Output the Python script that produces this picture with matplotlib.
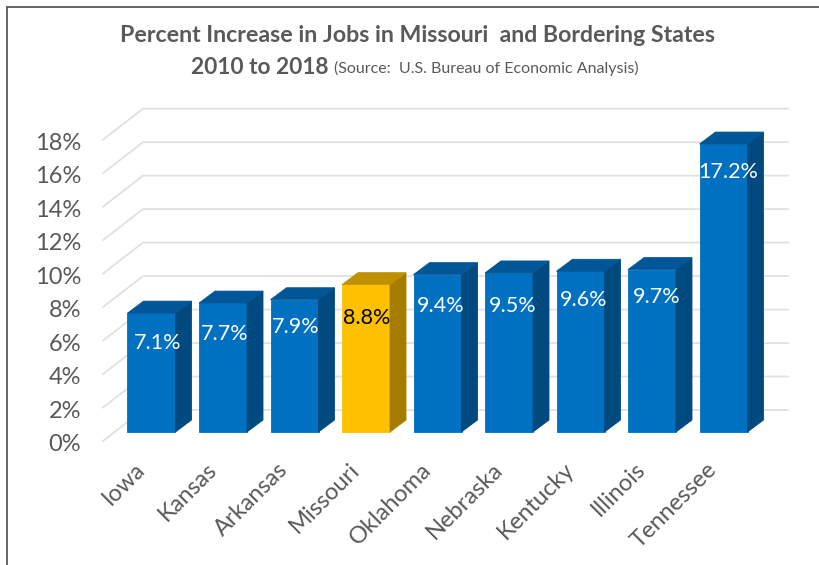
import matplotlib
matplotlib.use('Agg')
import matplotlib.pyplot as plt

states = ['Iowa', 'Kansas', 'Arkansas', 'Missouri', 'Oklahoma', 'Nebraska', 'Kentucky', 'Illinois', 'Tennessee']
increase = [7.1, 7.7, 7.9, 8.8, 9.4, 9.5, 9.6, 9.7, 17.2]
value_labels = ['7.1%', '7.7%', '7.9%', '8.8%', '9.4%', '9.5%', '9.6%', '9.7%', '17.2%']
y_ticks = [0, 2, 4, 6, 8, 10, 12, 14, 16, 18]

plt.rcParams['font.family'] = ['Lato', 'DejaVu Sans']

# one unit on each axis, in pixels
X_UNIT = 71.5
Y_UNIT = 16.74
X0 = 151.5
Y0 = 432

BAR_W = 48 / X_UNIT
BAR_DX = 16 / X_UNIT
BAR_DY = 12 / Y_UNIT
# chart floor runs from the front edge to the back wall
FLOOR_LEFT = (103 - X0) / X_UNIT
FLOOR_BACK_X = (143 - X0) / X_UNIT
FLOOR_RIGHT = (788 - X0) / X_UNIT
FLOOR_FRONT_Y = (Y0 - 441) / Y_UNIT
FLOOR_BACK_Y = (Y0 - 410) / Y_UNIT

# value labels were placed by hand on each bar (pixels right, pixels down)
LABEL_NUDGE = [(5, 2), (0, 3), (0, 0), (-1, 6), (2, 4), (2, 5), (2, 1), (3, 0), (3, 0)]

fig = plt.figure(figsize=(8.2, 5.65), dpi=100)
ax = fig.add_axes([0, 0, 1, 1])
ax.set_xlim(-X0 / X_UNIT, (820 - X0) / X_UNIT)
ax.set_ylim((Y0 - 565) / Y_UNIT, Y0 / Y_UNIT)
ax.axis('off')

# outer frame, left and top edges only
ax.plot([7 / 820, 7 / 820, 1], [0, 1 - 7 / 565, 1 - 7 / 565], transform=ax.transAxes,
        color='#595959', lw=1.3, solid_joinstyle='miter')

for t in y_ticks:
    ax.plot([FLOOR_LEFT, FLOOR_BACK_X, FLOOR_RIGHT],
            [FLOOR_FRONT_Y + t, FLOOR_BACK_Y + t, FLOOR_BACK_Y + t],
            color='#e1e1e1', lw=1.3, zorder=1)
    ax.text((81 - X0) / X_UNIT, FLOOR_FRONT_Y + t - 3.5 / Y_UNIT, f'{t}%', ha='right', va='center',
            fontsize=17, color='#595959')

for i, (state, v) in enumerate(zip(states, increase)):
    if state == 'Missouri':
        front, side, top, text_color = '#ffc000', '#a67c00', '#bf9000', 'black'
    else:
        front, side, top, text_color = '#0070c0', '#004a80', '#005696', 'white'
    left = i - BAR_W / 2
    right = i + BAR_W / 2
    ax.bar(i, v, width=BAR_W, color=front, edgecolor=front, lw=0.6, zorder=3)
    ax.fill([right, right + BAR_DX, right + BAR_DX, right],
            [0, BAR_DY, v + BAR_DY, v], color=side, lw=0.6, zorder=3)
    ax.fill([left, left + BAR_DX, right + BAR_DX, right],
            [v, v + BAR_DY, v + BAR_DY, v], color=top, lw=0.6, zorder=3)
    nudge_x, nudge_y = LABEL_NUDGE[i]
    ax.text(i + 0.02 + nudge_x / X_UNIT, v - 1.65 - nudge_y / Y_UNIT, value_labels[i],
            ha='center', va='center', fontsize=15.5, color=text_color, zorder=4)
    # category label, rotated with its end under the bar
    ax.text(i - 0.24, -1.6, state, ha='right', va='top', rotation=45,
            rotation_mode='anchor', fontsize=17, color='#595959')

ax.text((417 - X0) / X_UNIT, (Y0 - 36) / Y_UNIT, 'Percent Increase in Jobs in Missouri  and Bordering States',
        ha='center', va='center', fontsize=16.7, fontweight='bold', color='#595959')
ax.text((191 - X0) / X_UNIT, (Y0 - 67) / Y_UNIT, '2010 to 2018', ha='left', va='center',
        fontsize=16.3, fontweight='bold', color='#595959')
ax.text((334 - X0) / X_UNIT, (Y0 - 68) / Y_UNIT, '(Source:  U.S. Bureau of Economic Analysis)',
        ha='left', va='center', fontsize=11.55, color='#595959')

fig.savefig('out.png', dpi=100)
